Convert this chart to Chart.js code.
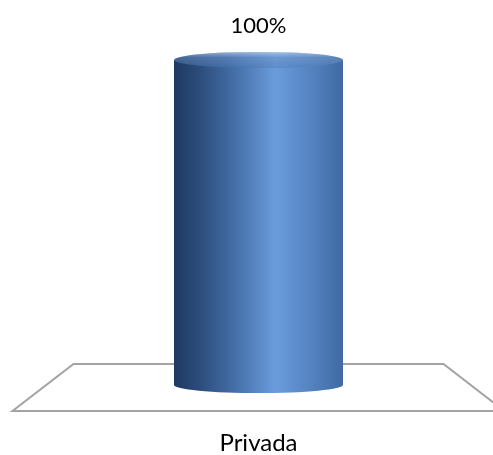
<!DOCTYPE html>
<html>
<head>
<meta charset="utf-8">
<script src="https://cdn.jsdelivr.net/npm/chart.js@4/dist/chart.umd.min.js"></script>
<style>
html,body{margin:0;padding:0;background:#fff;}
#wrap{width:493px;height:455px;}
</style>
</head>
<body>
<div id="wrap"><canvas id="c" width="493" height="455"></canvas></div>
<script>
const categories = ['Privada'];
const values = [100];
const valueLabels = ['100%'];

const VALUE_FONT = '22px Lato, "Open Sans", sans-serif';
const CAT_FONT = '24px Lato, "Open Sans", sans-serif';

const cylinderPlugin = {
  id: 'cylinder',
  beforeDatasetsDraw(chart) {
    const ctx = chart.ctx;
    const meta = chart.getDatasetMeta(0);
    const bar = meta.data[0];
    const cx = bar.x, base = bar.base;
    ctx.save();
    ctx.strokeStyle = '#a3a3a3';
    ctx.lineWidth = 2;
    ctx.beginPath();
    ctx.moveTo(cx - 185, base - 21);
    ctx.lineTo(cx + 185, base - 21);
    ctx.lineTo(cx + 246, base + 26);
    ctx.lineTo(cx - 246, base + 26);
    ctx.closePath();
    ctx.stroke();
    ctx.restore();
  },
  afterDatasetsDraw(chart) {
    const ctx = chart.ctx;
    const meta = chart.getDatasetMeta(0);
    meta.data.forEach((bar, i) => {
      const w = bar.width;
      const x0 = bar.x - w / 2, x1 = bar.x + w / 2;
      const rx = w / 2, ry = 8;
      const top = bar.y, base = bar.base;
      ctx.save();
      const g = ctx.createLinearGradient(x0, 0, x1, 0);
      g.addColorStop(0, '#1e3a61');
      g.addColorStop(0.15, '#2c4c7c');
      g.addColorStop(0.4, '#4a76b0');
      g.addColorStop(0.6, '#6a9cdc');
      g.addColorStop(0.8, '#5584c2');
      g.addColorStop(1, '#3f6aa2');
      ctx.fillStyle = g;
      ctx.beginPath();
      ctx.moveTo(x0, top);
      ctx.lineTo(x0, base);
      ctx.ellipse(bar.x, base, rx, ry, 0, Math.PI, 0, true);
      ctx.lineTo(x1, top);
      ctx.closePath();
      ctx.fill();
      // top ellipse
      const gt = ctx.createLinearGradient(x0, 0, x1, 0);
      gt.addColorStop(0, '#2f5283');
      gt.addColorStop(0.3, '#3f6aa4');
      gt.addColorStop(0.6, '#5b8ccb');
      gt.addColorStop(1, '#4873ac');
      ctx.fillStyle = gt;
      ctx.beginPath();
      ctx.ellipse(bar.x, top, rx, ry, 0, 0, Math.PI * 2);
      ctx.fill();
      const gh = ctx.createLinearGradient(0, top - ry, 0, top + ry);
      gh.addColorStop(0, 'rgba(230,240,255,0.55)');
      gh.addColorStop(0.35, 'rgba(200,220,250,0.15)');
      gh.addColorStop(1, 'rgba(255,255,255,0)');
      ctx.fillStyle = gh;
      ctx.fill();
      // labels
      ctx.fillStyle = '#000';
      ctx.textAlign = 'center';
      ctx.textBaseline = 'alphabetic';
      ctx.font = VALUE_FONT;
      ctx.fillText(valueLabels[i], bar.x, top - 27);
      ctx.font = CAT_FONT;
      ctx.fillText(categories[i], bar.x, base + 66);
      ctx.restore();
    });
  }
};

new Chart(document.getElementById('c'), {
  type: 'bar',
  data: {
    labels: categories,
    datasets: [{
      data: values,
      backgroundColor: 'rgba(0,0,0,0)',
      borderWidth: 0,
      barThickness: 169
    }]
  },
  options: {
    responsive: false,
    animation: false,
    layout: { padding: { top: 60, bottom: 70, left: 24, right: 0 } },
    plugins: { legend: { display: false }, tooltip: { enabled: false } },
    scales: {
      x: { display: false },
      y: { display: false, min: 0, max: 100 }
    }
  },
  plugins: [cylinderPlugin]
});
</script>
</body>
</html>
